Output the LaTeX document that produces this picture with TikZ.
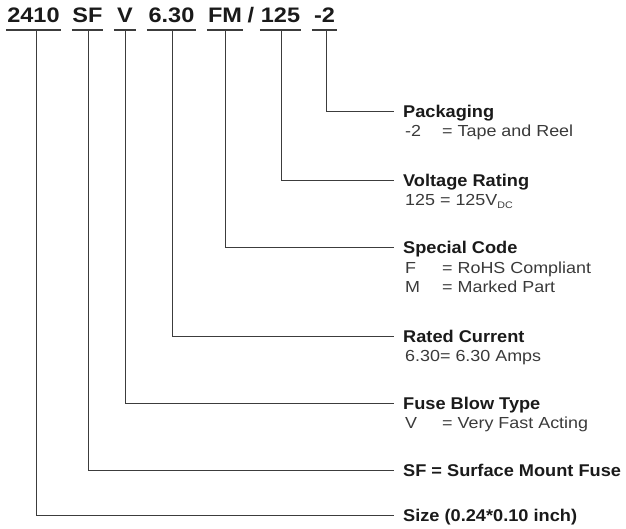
\documentclass[tikz,border=0pt]{standalone}
\usepackage{fontspec}
\setmainfont{Liberation Sans}
\newfontfamily\topfont[FakeStretch=1.12]{Liberation Sans}
\newfontfamily\labfont[FakeStretch=1.07]{Liberation Sans}
\newfontfamily\subfont[FakeStretch=1.12]{Liberation Sans}
\definecolor{ink}{HTML}{1A1A1A}
\definecolor{subink}{HTML}{3A3A3A}
\definecolor{wire}{HTML}{3C3C3C}
\tikzset{
  code/.style={anchor=base, inner xsep=0pt, inner ysep=6.5pt, text height=13pt, text depth=0pt,
    font=\topfont\bfseries\fontsize{21}{22}\selectfont, text=ink},
  uline/.style={draw=wire, line width=2pt},
  title/.style={anchor=west, inner sep=0pt, text height=12pt, text depth=0pt,
    font=\labfont\bfseries\fontsize{17}{19}\selectfont, text=ink},
  sub/.style={anchor=base west, inner sep=0pt,
    font=\subfont\fontsize{16}{18}\selectfont, text=subink},
  wirestyle/.style={draw=wire, line width=1pt}
}
\begin{document}
\begin{tikzpicture}[x=1pt,y=-1pt]
\useasboundingbox (0,0) rectangle (626,529);
% code letters
\node[code, minimum width=55pt] (c2410) at (33.5,23) {2410};
\node[code, minimum width=31pt] (cSF) at (87.5,23) {SF};
\node[code, minimum width=22pt] (cV) at (125,23) {V};
\node[code, minimum width=49pt] (c630) at (171.5,23) {6.30};
\node[code, minimum width=36pt] (cFM) at (225,23) {FM};
\node[code] (cslash) at (251,23) {/};
\node[code, minimum width=41pt] (c125) at (280.5,23) {125};
\node[code, minimum width=25pt] (c2) at (324.5,23) {-2};
\foreach \n in {c2410,cSF,cV,c630,cFM,c125,c2}
  \draw[uline] (\n.south west) -- (\n.south east);
% titles
\node[title] (tpack) at (403,112) {Packaging};
\node[title] (tvolt) at (403,181) {Voltage Rating};
\node[title] (tspec) at (403,248) {Special Code};
\node[title] (trate) at (403,336) {Rated Current};
\node[title] (tfuse) at (403,403) {Fuse Blow Type};
\node[title] (tsf) at (403,470) {SF = Surface Mount Fuse};
\node[title] (tsize) at (403,515) {Size (0.24*0.10 inch)};
% sub lines
\node[sub] (spk) at (405,137) {-2};
\node[sub] (spv) at (442,137) {= Tape and Reel};
\node[sub] (svo) at (405,206) {125 = 125V\raisebox{-0.35ex}{\fontsize{9.5}{9.5}\selectfont DC}};
\node[sub] (ssf) at (405,273) {F};
\node[sub] (ssfv) at (442,273) {= RoHS Compliant};
\node[sub] (ssm) at (405,292) {M};
\node[sub] (ssmv) at (442,292) {= Marked Part};
\node[sub] (sra) at (405,361) {6.30= 6.30 Amps};
\node[sub] (sfu) at (405,428) {V};
\node[sub] (sfuv) at (442,428) {= Very Fast Acting};
% connectors
\draw[wirestyle] ([xshift=1.5pt]c2.south) |- ([xshift=-9pt]tpack.west);
\draw[wirestyle] ([xshift=1.2pt]c125.south) |- ([xshift=-9pt]tvolt.west);
\draw[wirestyle] (cFM.south) |- ([xshift=-9pt]tspec.west);
\draw[wirestyle] ([xshift=0.5pt]c630.south) |- ([xshift=-9pt]trate.west);
\draw[wirestyle] (cV.south) |- ([xshift=-9pt]tfuse.west);
\draw[wirestyle] ([xshift=1.2pt]cSF.south) |- ([xshift=-9pt]tsf.west);
\draw[wirestyle] ([xshift=3.2pt]c2410.south) |- ([xshift=-9pt]tsize.west);
\end{tikzpicture}
\end{document}
